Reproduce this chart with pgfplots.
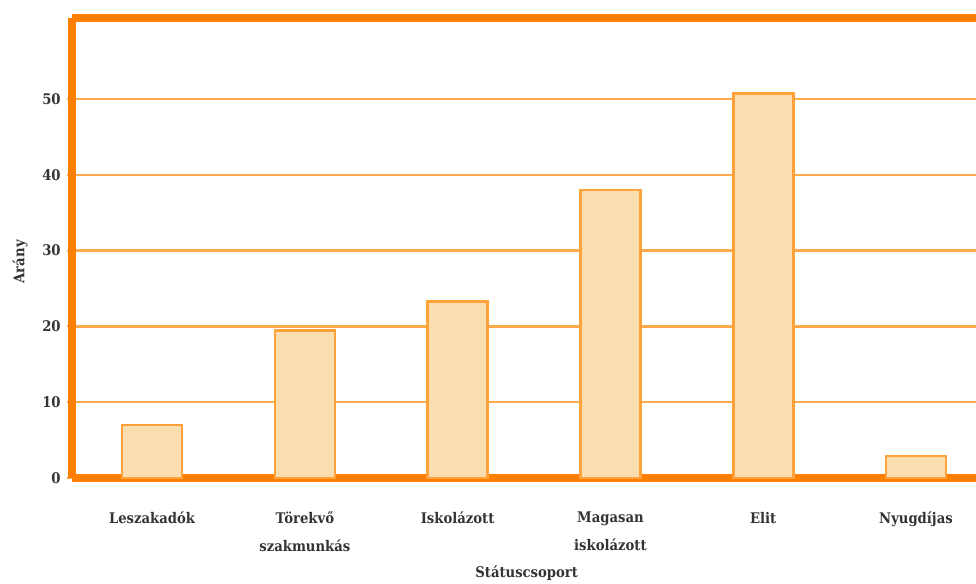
\documentclass[border=0pt]{standalone}
\usepackage{pgfplots}
\pgfplotsset{compat=1.18}
\usepackage{fontspec}
\setmainfont{DejaVu Serif Condensed}
\definecolor{frameor}{HTML}{FF8000}
\definecolor{gridor}{HTML}{FFAA4C}
\definecolor{barfill}{HTML}{FCDDB0}
\definecolor{baredge}{HTML}{FFA23A}
\begin{document}
\begin{tikzpicture}
\begin{axis}[
  name=ax,
  scale only axis,
  width=678pt, height=345pt,
  xmin=-0.524, xmax=5.393,
  ymin=0, ymax=60.7,
  separate axis lines,
  axis x line=box,
  axis y line=left,
  axis line style={frameor, line width=5.5pt, -},
  ytick={0,10,20,30,40,50},
  xtick={0,1,2,3,4,5},
  xticklabels={Leszakadók, Törekvő\\szakmunkás, Iskolázott, Magasan\\iskolázott, Elit, Nyugdíjas},
  ymajorgrids,
  grid style={gridor, line width=1.8pt},
  major tick length=4pt,
  ytick style={gridor, line width=1.5pt},
  xtick style={draw=none},
  tick align=outside,
  /pgf/number format/assume math mode=true,
  ticklabel style={font=\bfseries\fontsize{11}{13}\selectfont, text=black!80},
  xticklabel style={anchor=north, yshift=-18pt, align=center, font=\bfseries\fontsize{11}{21}\selectfont},
  yticklabel style={xshift=-1pt},
  xlabel={Státuscsoport},
  ylabel={Arány},
  label style={font=\bfseries\fontsize{11}{13}\selectfont, text=black!80},
  xlabel style={at={(axis description cs:0.503,-0.2065)}, anchor=center},
  ylabel style={at={(axis description cs:-0.0575,0.47)}, anchor=center},
  ybar, bar width=45pt, bar shift=0pt,
  clip=false,
]
\addplot[fill=barfill, draw=baredge, line width=2pt] coordinates {
  (0,7.0) (1,19.5) (2,23.3) (3,38.0) (4,50.7) (5,2.9)
};
\end{axis}
\pgfresetboundingbox
\path (ax.south west) ++(-54pt,-78.75pt) coordinate (bl);
\path (ax.north east) ++(0pt,13.5pt) coordinate (tr);
\path[use as bounding box] (bl) rectangle (tr);
\end{tikzpicture}
\end{document}
